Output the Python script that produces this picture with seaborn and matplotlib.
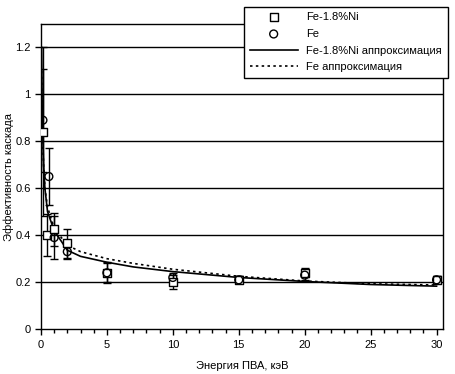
import seaborn as sns
import matplotlib.pyplot as plt
import pandas as pd
import numpy as np

# measured points, Fe-1.8%Ni
ni_x = [0.15, 0.45, 1.0, 2.0, 5.0, 10.0, 15.0, 20.0, 30.0]
ni_y = [0.84, 0.40, 0.425, 0.365, 0.24, 0.20, 0.21, 0.24, 0.21]
ni_err = [0.36, 0.09, 0.07, 0.06, 0.045, 0.03, 0.015, 0.02, 0.015]

# measured points, Fe
fe_x = [0.15, 0.6, 1.0, 2.0, 5.0, 10.0, 15.0, 20.0, 30.0]
fe_y = [0.89, 0.65, 0.39, 0.33, 0.24, 0.22, 0.21, 0.23, 0.21]
fe_err = [0.22, 0.12, 0.09, 0.03, 0.04, 0.02, 0.015, 0.02, 0.015]

# approximation curves
fit_x = [0.05, 0.1, 0.2, 0.3, 0.5, 1, 2, 3, 5, 7, 10, 15, 20, 25, 30]
ni_fit = [1.2, 0.9, 0.7, 0.6, 0.5, 0.42, 0.336, 0.31, 0.285, 0.265, 0.245, 0.22, 0.203, 0.19, 0.183]
fe_fit = [1.1, 0.85, 0.7, 0.6, 0.52, 0.43, 0.357, 0.33, 0.30, 0.28, 0.255, 0.225, 0.205, 0.193, 0.188]

plt.rcParams['font.family'] = ['Liberation Sans', 'DejaVu Sans']
plt.rcParams['font.size'] = 8

fig = plt.figure(figsize=(4.55, 3.74), dpi=100)
ax = fig.add_axes([0.090, 0.120, 0.884, 0.816])

for yy in np.arange(0.2, 1.21, 0.2):
    ax.axhline(yy, color='black', linewidth=1.0, zorder=1)

ax.errorbar(ni_x, ni_y, yerr=ni_err, fmt='none', ecolor='black',
            elinewidth=1.0, capsize=3, zorder=3)
ax.errorbar(fe_x, fe_y, yerr=fe_err, fmt='none', ecolor='black',
            elinewidth=1.0, capsize=3, zorder=3)

fits = pd.DataFrame({'x': fit_x, 'ni': ni_fit, 'fe': fe_fit})
sns.lineplot(data=fits, x='x', y='ni', color='black', linewidth=1.2,
             ax=ax, label='Fe-1.8%Ni аппроксимация', zorder=4)
sns.lineplot(data=fits, x='x', y='fe', color='black', linewidth=1.2,
             linestyle=(0, (1.5, 2)), ax=ax, label='Fe аппроксимация', zorder=4)

ax.scatter(ni_x, ni_y, marker='s', s=32, facecolors='white',
           edgecolors='black', linewidths=1.0, zorder=5, label='Fe-1.8%Ni')
ax.scatter(fe_x, fe_y, marker='o', s=32, facecolors='none',
           edgecolors='black', linewidths=1.0, zorder=6, label='Fe')

ax.set_xlim(0, 30.5)
ax.set_ylim(0, 1.3)
ax.set_xticks(np.arange(0, 31, 5))
ax.set_xticks(np.arange(0, 31, 1), minor=True)
ax.set_yticks(np.arange(0, 1.21, 0.2))
ax.set_yticklabels(['0', '0.2', '0.4', '0.6', '0.8', '1', '1.2'])
ax.tick_params(axis='both', direction='out', length=4, width=1, colors='black')
ax.tick_params(axis='x', which='minor', length=3, width=1)
ax.set_xlabel('Энергия ПВА, кэВ', labelpad=8)
ax.set_ylabel('Эффективность каскада', labelpad=1)
for sp in ax.spines.values():
    sp.set_color('black')
    sp.set_linewidth(1.0)

handles, labels = ax.get_legend_handles_labels()
ax.get_legend().remove()
order = [labels.index(l) for l in ['Fe-1.8%Ni', 'Fe', 'Fe-1.8%Ni аппроксимация', 'Fe аппроксимация']]
leg = fig.legend([handles[i] for i in order], [labels[i] for i in order],
                 loc='upper right', bbox_to_anchor=(0.996, 0.997),
                 frameon=True, fancybox=False, edgecolor='black',
                 framealpha=1, borderpad=0.5, handlelength=4.3,
                 labelspacing=0.6, fontsize=8)
leg.get_frame().set_linewidth(1.0)

fig.savefig('out.png', dpi=100)
